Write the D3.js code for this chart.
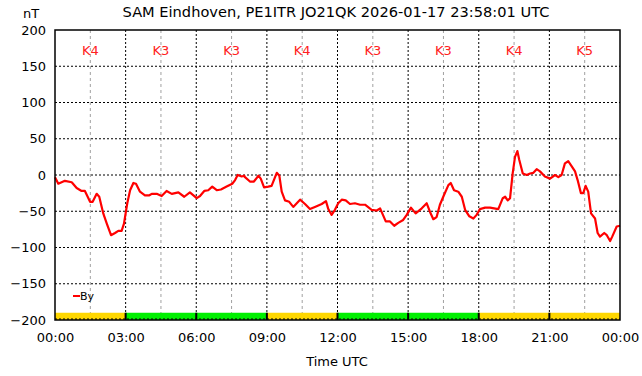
<!DOCTYPE html>
<meta charset="utf-8">
<style>
body { margin: 0; background: #fff; }
text { font-family: "DejaVu Sans", sans-serif; }
.axis text { font-size: 13px; fill: #000; }
.axis .domain { display: none; }
</style>
<svg width="642" height="376"></svg>
<script src="https://d3js.org/d3.v7.min.js"></script>
<script>

var title = "SAM Eindhoven, PE1ITR JO21QK 2026-01-17 23:58:01 UTC";

// hours since 00:00 UTC and By in nT
var hours = [0.00, 0.14, 0.42, 0.71, 0.92, 1.13, 1.27, 1.49, 1.60, 1.77, 1.88, 2.05, 2.20, 2.38, 2.55, 2.69, 2.83, 2.93,
  3.07, 3.19, 3.33, 3.44, 3.61, 3.82, 4.01, 4.11, 4.32, 4.53, 4.74, 4.96, 5.24, 5.49, 5.73, 6.02, 6.16, 6.34, 6.51,
  6.68, 6.87, 7.05, 7.29, 7.53, 7.65, 7.76, 7.93, 8.04, 8.07, 8.28, 8.45, 8.64, 8.74, 8.88, 9.06, 9.20, 9.42, 9.53,
  9.63, 9.77, 9.95, 10.12, 10.41, 10.62, 10.83, 11.04, 11.33, 11.51, 11.61, 11.75, 11.89, 12.03, 12.18, 12.35, 12.53,
  12.74, 12.96, 13.17, 13.45, 13.67, 13.81, 14.05, 14.23, 14.41, 14.58, 14.79, 14.94, 15.12, 15.32, 15.58, 15.79,
  15.93, 16.07, 16.21, 16.35, 16.52, 16.71, 16.81, 16.95, 17.13, 17.28, 17.42, 17.60, 17.77, 17.91, 18.05, 18.27,
  18.48, 18.83, 19.02, 19.12, 19.23, 19.33, 19.44, 19.54, 19.64, 19.72, 19.87, 20.04, 20.18, 20.32, 20.46, 20.60,
  20.81, 21.03, 21.24, 21.38, 21.52, 21.66, 21.80, 21.95, 22.09, 22.20, 22.34, 22.44, 22.54, 22.65, 22.77, 22.94,
  23.05, 23.15, 23.33, 23.44, 23.58, 23.67, 23.86, 24.00];
var by = [-3, -12, -8, -10, -18, -22, -22, -37, -37, -26, -30, -53, -67, -83, -80, -77, -77, -67,
  -39, -21, -11, -12, -23, -28, -28, -26, -26, -29, -22, -26, -24, -30, -24, -32, -29, -22, -21,
  -16, -21, -20, -16, -12, -7, 0, -2, -1, -3, -9, -9, -1, -5, -17, -16, -15, 3, -1,
  -23, -35, -37, -44, -34, -40, -47, -44, -40, -36, -47, -55, -48, -39, -34, -35, -40,
  -39, -41, -41, -48, -49, -46, -64, -64, -70, -66, -62, -55, -45, -53, -46, -39,
  -51, -61, -58, -41, -28, -14, -11, -21, -23, -30, -48, -57, -60, -55, -47, -45,
  -45, -47, -32, -30, -35, -32, 2, 25, 33, 21, 2, 0, 2, 3, 8, 5,
  -2, -5, 0, -3, 0, 16, 19, 12, 5, -7, -25, -25, -15, -23, -53, -60,
  -80, -85, -80, -83, -91, -85, -71, -70];

// 3-hour K index
var kIndex = [4, 3, 3, 4, 3, 3, 4, 5];

var yTicks = [-200, -150, -100, -50, 0, 50, 100, 150, 200];
var xTicks = [0, 3, 6, 9, 12, 15, 18, 21, 24];

var svg = d3.select("svg");

var x = d3.scaleLinear().domain([0, 24]).range([55, 620]),
    y = d3.scaleLinear().domain([-200, 200]).range([320, 30]);

// grid
svg.append("g").selectAll("line")
  .data(d3.range(1.5, 24, 3))
  .join("line")
    .attr("x1", d => x(d)).attr("x2", d => x(d))
    .attr("y1", y(200)).attr("y2", y(-200))
    .attr("stroke", "#a0a0a0").attr("stroke-dasharray", "3,3");

svg.append("g").selectAll("line")
  .data(xTicks.slice(1, -1))
  .join("line")
    .attr("x1", d => x(d)).attr("x2", d => x(d))
    .attr("y1", y(200)).attr("y2", y(-200))
    .attr("stroke", "#000").attr("stroke-dasharray", "2,2");

svg.append("g").selectAll("line")
  .data(yTicks.slice(1, -1))
  .join("line")
    .attr("x1", x(0)).attr("x2", x(24))
    .attr("y1", d => y(d)).attr("y2", d => y(d))
    .attr("stroke", "#000").attr("stroke-dasharray", "2,2");

// K index bar
var kColor = function(k) { return k >= 4 ? "#ffd700" : "#00f000"; };
svg.append("g").selectAll("rect")
  .data(kIndex)
  .join("rect")
    .attr("x", (d, i) => x(i * 3))
    .attr("width", x(3) - x(0))
    .attr("y", y(-190))
    .attr("height", y(-200) - y(-190))
    .attr("fill", kColor);

svg.append("g").selectAll("line")
  .data(xTicks.slice(1, -1))
  .join("line")
    .attr("x1", d => x(d)).attr("x2", d => x(d))
    .attr("y1", y(-190)).attr("y2", y(-200))
    .attr("stroke", "#000").attr("stroke-width", 2);

svg.append("line")
    .attr("x1", x(0)).attr("x2", x(24))
    .attr("y1", y(-200) - 1).attr("y2", y(-200) - 1)
    .attr("stroke", "#000").attr("stroke-dasharray", "2,2");

// K labels
svg.append("g").selectAll("text")
  .data(kIndex)
  .join("text")
    .attr("x", (d, i) => x(i * 3 + 1.5))
    .attr("y", 55)
    .attr("text-anchor", "middle")
    .attr("fill", "#ff2020")
    .style("font-size", "13px")
    .text(d => "K" + d);

// By line
var line = d3.line()
    .x((d, i) => x(hours[i]))
    .y(d => y(d));

svg.append("path")
    .datum(by)
    .attr("fill", "none")
    .attr("stroke", "#ff0000")
    .attr("stroke-width", 2.2)
    .attr("stroke-linejoin", "round")
    .attr("d", line);

// frame
svg.append("rect")
    .attr("x", x(0)).attr("y", y(200))
    .attr("width", x(24) - x(0)).attr("height", y(-200) - y(200))
    .attr("fill", "none").attr("stroke", "#000").attr("stroke-width", 1.5);

// axes
svg.append("g")
    .attr("class", "axis")
    .attr("transform", "translate(0," + (y(-200) + 10) + ")")
    .call(d3.axisBottom(x).tickValues(xTicks).tickSize(0)
      .tickFormat(d => d3.format("02d")(d % 24) + ":00"));

svg.append("g")
    .attr("class", "axis")
    .attr("transform", "translate(" + (x(0) - 6) + ",0)")
    .call(d3.axisLeft(y).tickValues(yTicks).tickSize(0));

svg.selectAll(".axis line").remove();

// texts
svg.append("text")
    .attr("x", 336).attr("y", 17)
    .attr("text-anchor", "middle")
    .style("font-size", "14.6px")
    .text(title);

svg.append("text")
    .attr("x", 31).attr("y", 18)
    .attr("text-anchor", "middle")
    .style("font-size", "13px")
    .text("nT");

svg.append("text")
    .attr("x", 337).attr("y", 366)
    .attr("text-anchor", "middle")
    .style("font-size", "13px")
    .text("Time UTC");

// legend
svg.append("line")
    .attr("x1", 73).attr("x2", 80)
    .attr("y1", 296).attr("y2", 296)
    .attr("stroke", "#ff0000").attr("stroke-width", 2);

svg.append("text")
    .attr("x", 80).attr("y", 300)
    .style("font-size", "11px")
    .text("By");

</script>
